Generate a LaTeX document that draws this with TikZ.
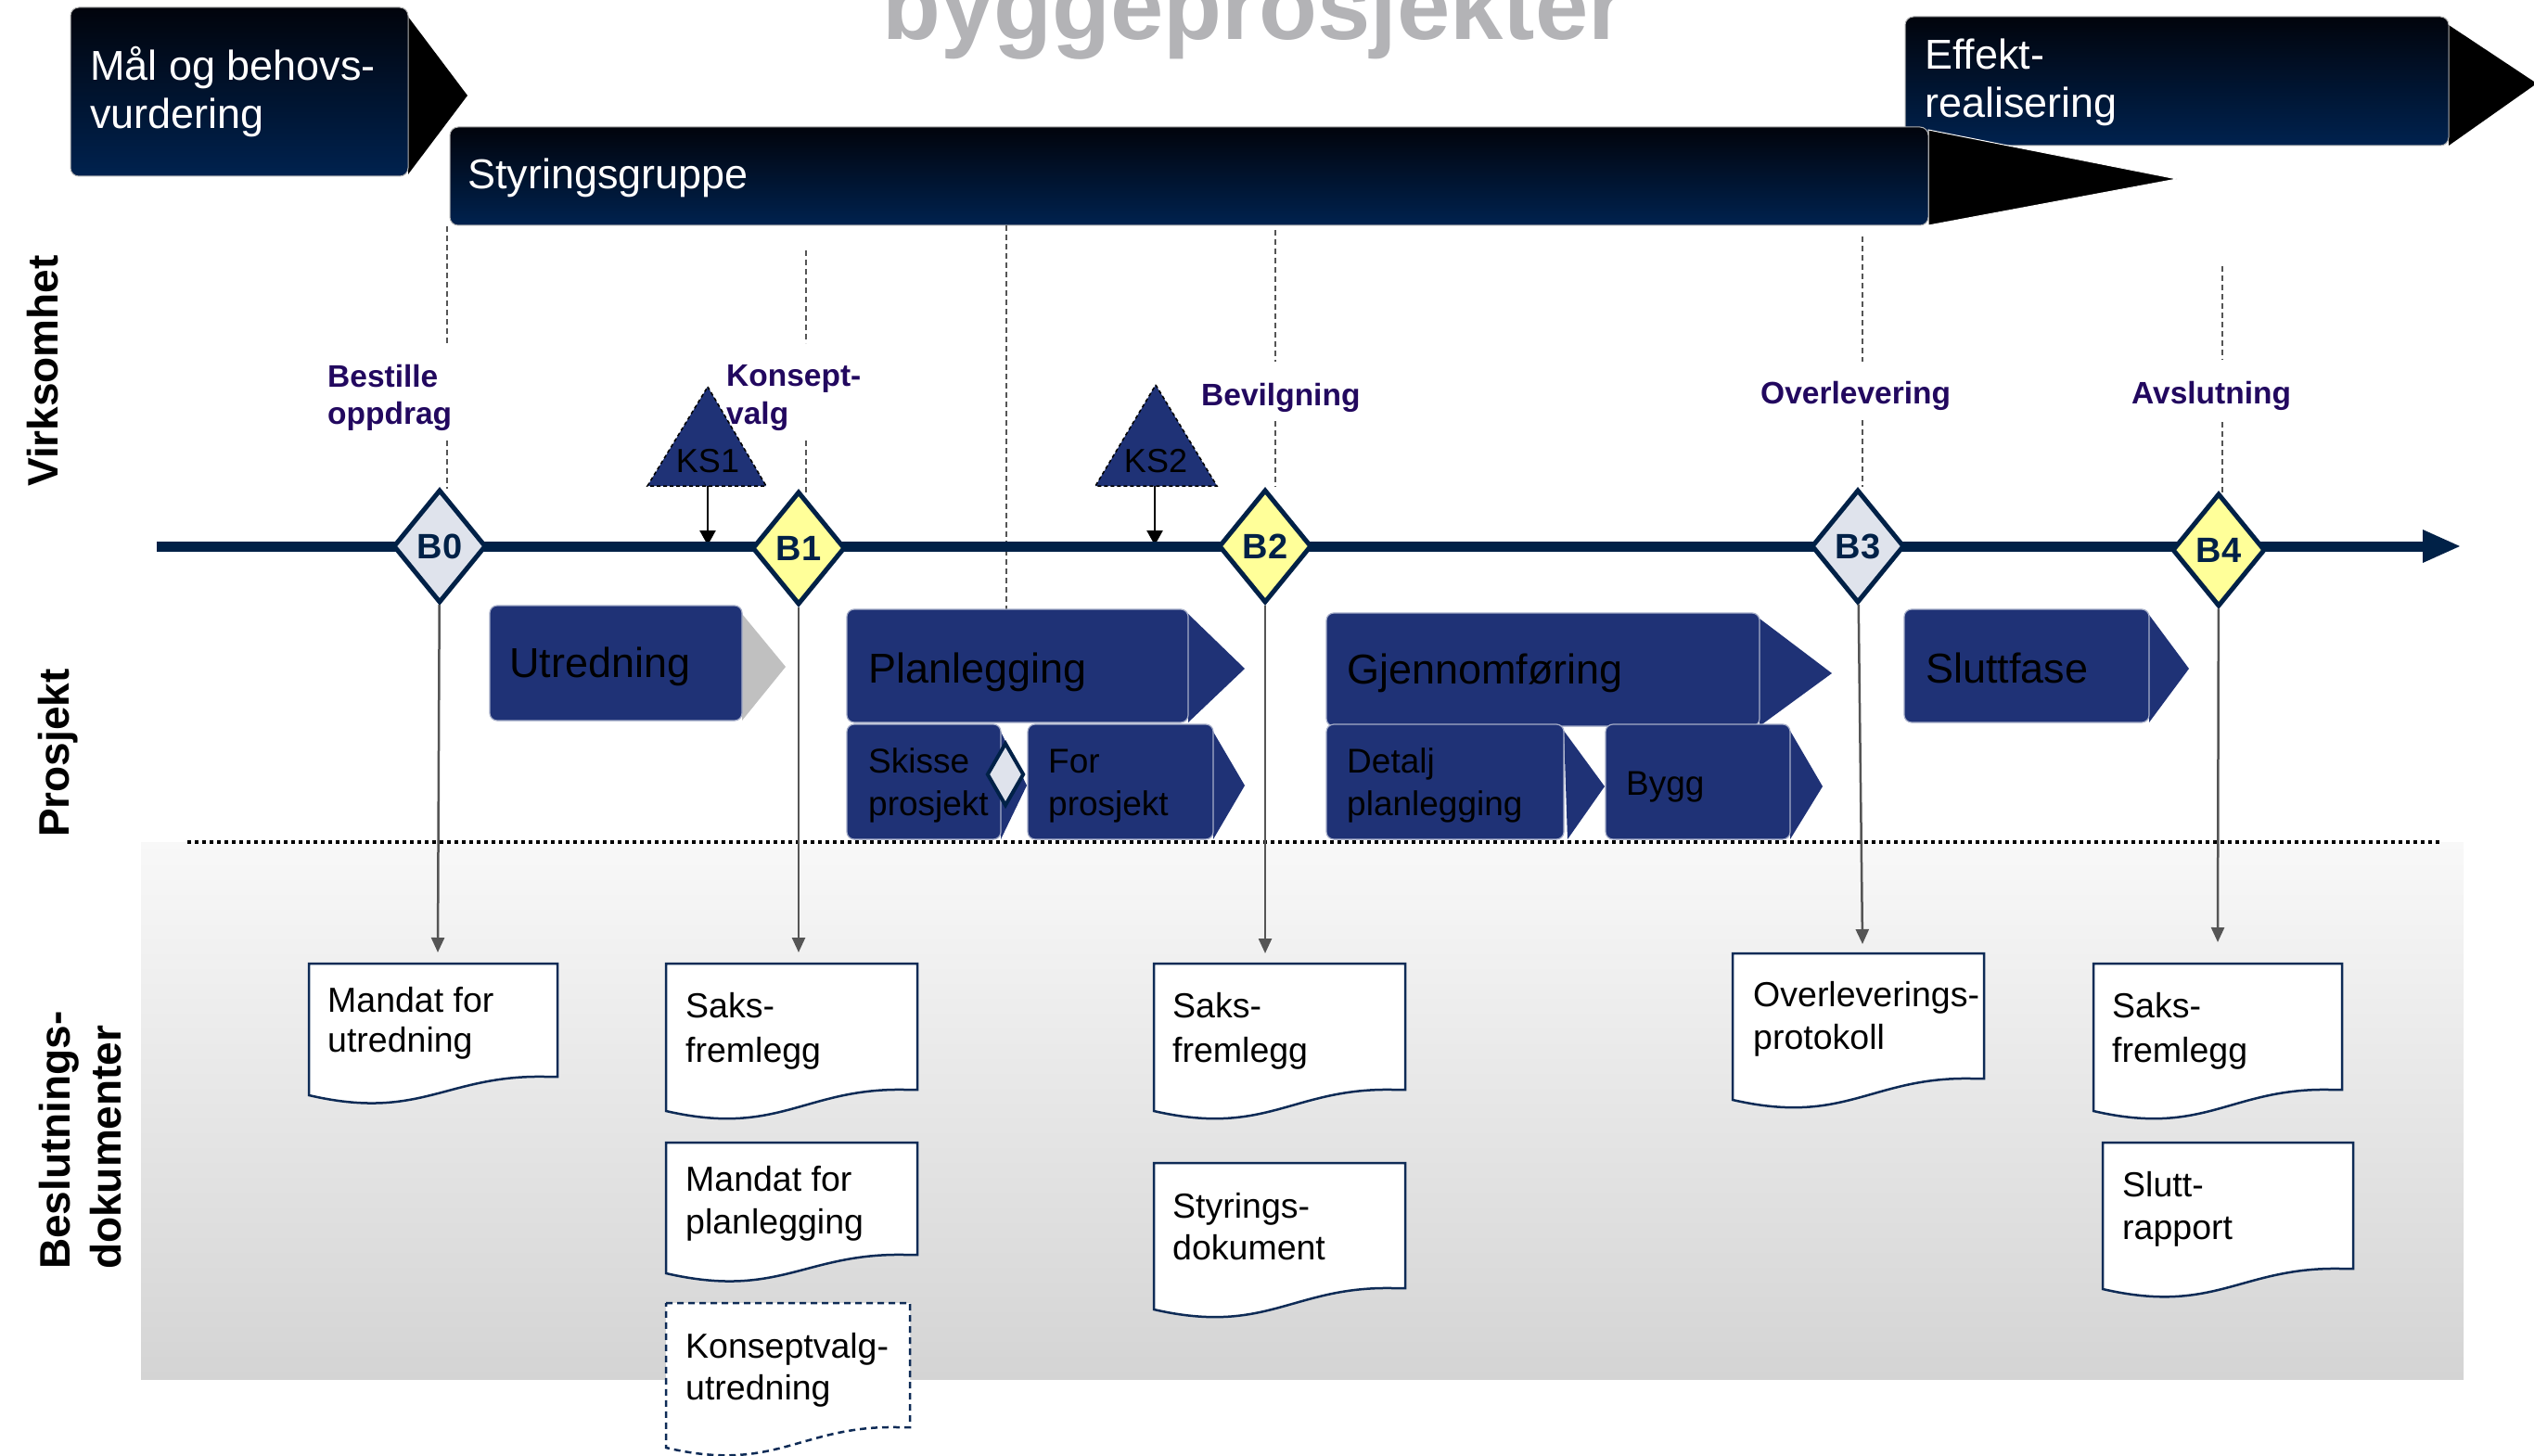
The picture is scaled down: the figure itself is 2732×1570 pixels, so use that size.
\documentclass[tikz,border=0pt]{standalone}
\usepackage{fontspec}
\setmainfont{Liberation Sans}
\usetikzlibrary{arrows.meta,shapes.geometric}
\definecolor{topdark}{HTML}{01040C}
\definecolor{topblue}{HTML}{00224F}
\definecolor{boxblue}{HTML}{1F3276}
\definecolor{navyTL}{HTML}{002147}
\definecolor{diagray}{HTML}{DFE3EC}
\definecolor{diayellow}{HTML}{FFFF99}
\definecolor{labpurple}{HTML}{22085F}
\definecolor{guidegray}{HTML}{555555}
\definecolor{conngray}{HTML}{555555}
\definecolor{docborder}{HTML}{0E2B56}
\definecolor{bgtop}{HTML}{F8F8F8}
\definecolor{bgbot}{HTML}{D4D4D4}
\definecolor{titlegray}{HTML}{B3B3B6}
\definecolor{utrgray}{HTML}{C0C0C0}
\newcommand\twol[2]{\vtop{\lineskiplimit=-1000pt\relax\hbox{#1}\hbox{#2}}}
\newcommand\docshape[6][]{%
  \pgfmathsetmacro\docW{#3-#2}%
  \pgfmathsetmacro\docXa{#3-0.05*\docW}%
  \pgfmathsetmacro\docXb{#2+0.55*\docW}%
  \pgfmathsetmacro\docXc{#2+0.45*\docW}%
  \pgfmathsetmacro\docYb{#5-2}%
  \pgfmathsetmacro\docYc{#6+28}%
  \path[docline,#1] (#2,#4) -- (#3,#4) -- (#3,#5) -- (\docXa,#5) .. controls (\docXb,\docYb) and (\docXc,\docYc) .. (#2,#6) -- cycle;}
\begin{document}
\begin{tikzpicture}[x=1pt,y=-1pt,
  topbox/.style={rounded corners=9pt, top color=topdark, bottom color=topblue, draw=gray!60, line width=1pt, inner sep=0pt},
  toptext/.style={anchor=base west, inner sep=0pt, text=white, font=\fontsize{45}{52}\selectfont},
  pbox/.style={rounded corners=8pt, fill=boxblue, draw=white!60!boxblue, line width=1.2pt, inner sep=0pt},
  ptext/.style={anchor=base west, inner sep=0pt, text=black, font=\fontsize{45}{52}\selectfont},
  stext/.style={anchor=base west, inner sep=0pt, text=black, font=\fontsize{37}{46}\selectfont},
  mile/.style={diamond, draw=navyTL, line width=5pt, minimum width=100pt, minimum height=122pt, inner sep=0pt, text=navyTL, font=\bfseries\fontsize{38}{40}\selectfont},
  milelab/.style={anchor=base west, inner sep=0pt, text=labpurple, font=\bfseries\fontsize{33.5}{40}\selectfont},
  guide/.style={draw=guidegray, line width=2pt, dash pattern=on 6pt off 4pt},
  kstri/.style={fill=boxblue, draw=black, line width=1.5pt, dash pattern=on 4pt off 3pt},
  kstext/.style={anchor=base, inner sep=0pt, text=black, font=\fontsize{36}{40}\selectfont},
  ksarrow/.style={draw=black, line width=2.5pt, -{Triangle[width=17pt,length=16pt]}},
  conn/.style={draw=conngray, line width=2.5pt, -{Triangle[width=14pt,length=16pt]}},
  docline/.style={fill=white, draw=docborder, line width=2.5pt},
  dtext/.style={anchor=base west, inner sep=0pt, text=black, font=\fontsize{37.5}{47}\selectfont},
  side/.style={rotate=90, anchor=base west, inner sep=0pt, text=black, font=\bfseries\fontsize{46}{55}\selectfont}
]
\useasboundingbox (0,0) rectangle (2732,1570);
\fill[white] (0,0) rectangle (2732,1570);
% background of document lane
\shade[top color=bgtop, bottom color=bgbot] (152,908) rectangle (2656,1487);
\draw[line width=4pt, dash pattern=on 4pt off 4pt] (202,908) -- (2631,908);
% title (cut off at the top edge, as in the reference)
\node[anchor=base west, inner sep=0pt, text=titlegray, font=\bfseries\fontsize{103}{110}\selectfont] (title) at (951,43) {byggeprosjekter};
% top boxes
\fill[black] (440,18) -- (504,103) -- (440,188) -- cycle;
\node[topbox, minimum width=364pt, minimum height=182pt] (mal) at (258,99) {};
\node[toptext] (malT) at (97,87) {\twol{Mål og behovs-}{vurdering}};
\fill[black] (2640,27) -- (2735,90) -- (2640,157) -- cycle;
\node[topbox, minimum width=586pt, minimum height=139pt] (eff) at (2347,87.5) {};
\node[toptext] (effT) at (2075,75) {\twol{Effekt-}{realisering}};
\filldraw[black, draw=white, line width=1pt] (2079,140) -- (2347,193) -- (2079,243) -- cycle;
\node[topbox, minimum width=1594pt, minimum height=106pt] (styr) at (1282,190) {};
\node[toptext] (styrT) at (504,204) {Styringsgruppe};
% guide lines
\draw[guide] (482,244) -- (482,370) (482,475) -- (482,527);
\draw[guide] (869,270) -- (869,370) (869,475) -- (869,533);
\draw[guide] (1085,243) -- (1085,660);
\draw[guide] (1375,248) -- (1375,390) (1375,454) -- (1375,525);
\draw[guide] (2008,255) -- (2008,390) (2008,453) -- (2008,525);
\draw[guide] (2396,287) -- (2396,388) (2396,455) -- (2396,532);
% KS triangles
\path[kstri] (763,417) -- (826,524) -- (698,524) -- cycle;
\node[kstext] (ks1) at (763,509) {KS1};
\path[kstri] (1246,415) -- (1312,524) -- (1181,524) -- cycle;
\node[kstext] (ks2) at (1246,509) {KS2};
\coordinate (ks1b) at (763,524); \coordinate (ks1t) at (763,588);
\coordinate (ks2b) at (1245,524); \coordinate (ks2t) at (1245,588);
\draw[ksarrow] (ks1b) -- (ks1t);
\draw[ksarrow] (ks2b) -- (ks2t);
% timeline
\coordinate (tlS) at (169,589); \coordinate (tlE) at (2615,589);
\draw[line width=11pt, navyTL] (tlS) -- (tlE);
\fill[navyTL] (2612,571) -- (2652,589) -- (2612,607) -- cycle;
% milestones
\node[mile, fill=diagray] (B0) at (474,589) {B0};
\node[mile, fill=diayellow] (B1) at (861,591) {B1};
\node[mile, fill=diayellow] (B2) at (1364,589) {B2};
\node[mile, fill=diagray] (B3) at (2003,589) {B3};
\node[mile, fill=diayellow] (B4) at (2392,593) {B4};
% milestone labels
\node[milelab] (lb0) at (353,417) {\twol{Bestille}{oppdrag}};
\node[milelab, font=\bfseries\fontsize{33.5}{41}\selectfont] (lb1) at (783,416) {\twol{Konsept-}{valg}};
\node[milelab] (lb2) at (1295,437) {Bevilgning};
\node[milelab] (lb3) at (1898,435) {Overlevering};
\node[milelab] (lb4) at (2298,435) {Avslutning};
% project phases
\fill[utrgray] (800,662) -- (847,719) -- (800,777) -- cycle;
\node[pbox, minimum width=272pt, minimum height=124pt] (utr) at (664,715) {};
\node[ptext] (utrT) at (549,730) {Utredning};
\fill[boxblue] (1281,662) -- (1342,721) -- (1281,779) -- cycle;
\node[pbox, minimum width=368pt, minimum height=122pt] (pla) at (1097,718) {};
\node[ptext] (plaT) at (936,736) {Planlegging};
\fill[boxblue] (1079,789) -- (1107,847) -- (1079,905) -- cycle;
\node[pbox, minimum width=166pt, minimum height=124pt] (ski) at (996,843) {};
\node[stext] (skiT) at (936,833) {\twol{Skisse}{prosjekt}};
\fill[boxblue] (1308,789) -- (1342,847) -- (1308,905) -- cycle;
\node[pbox, minimum width=200pt, minimum height=124pt] (for) at (1208,843) {};
\node[stext] (forT) at (1130,833) {\twol{For}{prosjekt}};
\node[diamond, draw=navyTL, line width=4pt, fill=diagray, minimum width=40pt, minimum height=68pt, inner sep=0pt] (skd) at (1084,835) {};
\fill[boxblue] (1897,667) -- (1975,726) -- (1897,783) -- cycle;
\node[pbox, minimum width=467pt, minimum height=122pt] (gje) at (1663.5,722) {};
\node[ptext] (gjeT) at (1452,737) {Gjennomføring};
\fill[boxblue] (1686,788) -- (1730,848) -- (1690,905) -- cycle;
\node[pbox, minimum width=256pt, minimum height=124pt] (det) at (1558,843) {};
\node[stext] (detT) at (1452,833) {\twol{Detalj}{planlegging}};
\fill[boxblue] (1930,788) -- (1965,848) -- (1930,905) -- cycle;
\node[pbox, minimum width=199pt, minimum height=124pt] (byg) at (1830.5,843) {};
\node[stext] (bygT) at (1753,857) {Bygg};
\fill[boxblue] (2317,663) -- (2360,721) -- (2317,779) -- cycle;
\node[pbox, minimum width=264pt, minimum height=122pt] (slu) at (2185,718) {};
\node[ptext] (sluT) at (2076,736) {Sluttfase};
% connectors to documents
\coordinate (t0) at (472,1027);
\coordinate (t1) at (861,1027);
\coordinate (t2) at (1364,1028);
\coordinate (t3) at (2008,1018);
\coordinate (t4) at (2391,1016);
\draw[conn] (B0) -- (t0);
\draw[conn] (B1) -- (t1);
\draw[conn] (B2) -- (t2);
\draw[conn] (B3) -- (t3);
\draw[conn] (B4) -- (t4);
% documents
\docshape{333}{601}{1039}{1161}{1181}
\node[dtext, font=\fontsize{37.5}{43}\selectfont] (d0) at (353,1091) {\twol{Mandat for}{utredning}};
\docshape{718}{989}{1039}{1175}{1198}
\node[dtext, font=\fontsize{37.5}{48}\selectfont] (d1) at (739,1097) {\twol{Saks-}{fremlegg}};
\docshape{718}{989}{1232}{1353}{1373}
\node[dtext, font=\fontsize{37.5}{46}\selectfont] (d1b) at (739,1284) {\twol{Mandat for}{planlegging}};
\docshape[dash pattern=on 7pt off 5pt]{718}{981}{1405}{1539}{1561}
\node[dtext, font=\fontsize{37.5}{45}\selectfont] (d1c) at (739,1464) {\twol{Konseptvalg-}{utredning}};
\docshape{1244}{1515}{1039}{1175}{1198}
\node[dtext, font=\fontsize{37.5}{48}\selectfont] (d2) at (1264,1097) {\twol{Saks-}{fremlegg}};
\docshape{1244}{1515}{1254}{1389}{1412}
\node[dtext, font=\fontsize{37.5}{45}\selectfont] (d2b) at (1264,1313) {\twol{Styrings-}{dokument}};
\docshape{1868}{2139}{1028}{1163}{1186}
\node[dtext, font=\fontsize{37.5}{46}\selectfont] (d3) at (1890,1085) {\twol{Overleverings-}{protokoll}};
\docshape{2257}{2525}{1039}{1175}{1198}
\node[dtext, font=\fontsize{37.5}{48}\selectfont] (d4) at (2277,1097) {\twol{Saks-}{fremlegg}};
\docshape{2267}{2537}{1232}{1368}{1390}
\node[dtext, font=\fontsize{37.5}{46}\selectfont] (d4b) at (2288,1290) {\twol{Slutt-}{rapport}};
% side labels
\node[side] (sv) at (62,525) {Virksomhet};
\node[side] (sp) at (74,903) {Prosjekt};
\node[side] (sb) at (75,1369) {\twol{Beslutnings-}{dokumenter}};
\end{tikzpicture}
\end{document}
